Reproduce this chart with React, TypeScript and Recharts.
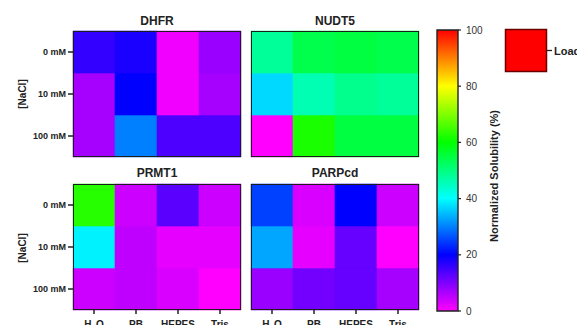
import React from 'react';
import { BarChart, Bar, XAxis, YAxis, Cell } from 'recharts';

// ---- data ----
const buffers = ['H₂O', 'PB', 'HEPES', 'Tris'];
const naclLevels = ['0 mM', '10 mM', '100 mM'];
// rows: 0 mM, 10 mM, 100 mM ; columns: H2O, PB, HEPES, Tris (normalized solubility %)
const dhfr = [
  [16, 18, 1, 8],
  [7, 20, 1, 7],
  [7, 30, 14, 14],
];
const nudt5 = [
  [48, 54, 55, 54],
  [37, 46, 49, 48],
  [0, 62, 55, 55],
];
const prmt1 = [
  [63, 4, 13, 4],
  [39, 5, 2, 2],
  [4, 5, 3, 0],
];
const parpcd = [
  [25, 3, 20, 4],
  [33, 2, 12, 0],
  [8, 11, 12, 7],
];
const scaleTicks = [0, 20, 40, 60, 80, 100];
const scaleStops = [0, 20, 40, 60, 80, 100];
const legendLabel = 'Loading';

const W = 577;
const H = 345;
const FONT = 'Arial, "Liberation Sans", sans-serif';

const colorOf = (v: number) => `hsl(${300 - 3 * v}, 100%, 50%)`;

type PanelProps = {
  values: number[][];
  left: number;
  top: number;
  showY: boolean;
  showX: boolean;
};

const PW = 168;
const PH = 126;

function Heatmap({ values, left, top, showY, showX }: PanelProps) {
  const data = buffers.map((b, c) => ({ buffer: b, h0: 1, h1: 1, h2: 1, v0: values[0][c], v1: values[1][c], v2: values[2][c] }));
  const yW = showY ? 73 : 0;
  const xH = showX ? 30 : 0;
  const margin = {
    top,
    left: left - yW,
    right: W - (left + PW),
    bottom: H - (top + PH) - xH,
  };
  return (
    <div style={{ position: 'absolute', left: 0, top: 0 }}>
      <BarChart width={W} height={H} data={data} margin={margin} barCategoryGap={0} barGap={0}>
        <XAxis
          dataKey="buffer"
          type="category"
          hide={!showX}
          height={xH}
          axisLine={false}
          tickSize={4}
          tickMargin={7}
          tickLine={{ stroke: '#222', strokeWidth: 1.5 }}
          tick={{ fontSize: 10, fontWeight: 700, fill: '#222', fontFamily: FONT }}
          interval={0}
        />
        <YAxis
          type="number"
          domain={[0, 3]}
          ticks={[0.5, 1.5, 2.5]}
          tickFormatter={(v: number) => naclLevels[2 - Math.floor(v)]}
          hide={!showY}
          width={yW}
          axisLine={false}
          tickSize={5}
          tickMargin={2}
          tickLine={{ stroke: '#222', strokeWidth: 1.5 }}
          tick={{ fontSize: 9, fontWeight: 700, fill: '#222', fontFamily: FONT }}
        />
        {[2, 1, 0].map((r) => (
          <Bar key={r} dataKey={`h${r}`} stackId="s" isAnimationActive={false}>
            {data.map((d, c) => (
              <Cell key={c} fill={colorOf(values[r][c])} stroke={colorOf(values[r][c])} strokeWidth={0.6} />
            ))}
          </Bar>
        ))}
      </BarChart>
      <div
        style={{
          position: 'absolute',
          left,
          top,
          width: PW,
          height: PH,
          border: '1.6px solid #1c1c1c',
          boxSizing: 'border-box',
          pointerEvents: 'none',
        }}
      />
    </div>
  );
}

function ColorBar() {
  const left = 437;
  const right = 458;
  const top = 30;
  const bottom = 311;
  const yW = 40;
  return (
    <div style={{ position: 'absolute', left: 0, top: 0 }}>
      <BarChart
        width={W}
        height={H}
        data={[{ name: 'scale', v: 100 }]}
        margin={{ top, bottom: H - bottom, left, right: W - right - yW }}
        barCategoryGap={0}
      >
        <defs>
          <linearGradient id="rainbow" x1="0" y1="1" x2="0" y2="0">
            {scaleStops.map((s) => (
              <stop key={s} offset={`${s}%`} stopColor={colorOf(s)} />
            ))}
          </linearGradient>
        </defs>
        <XAxis dataKey="name" hide />
        <YAxis
          orientation="right"
          type="number"
          domain={[0, 100]}
          ticks={scaleTicks}
          width={yW}
          axisLine={false}
          tickSize={3}
          tickMargin={5}
          tickLine={{ stroke: '#222', strokeWidth: 1.2 }}
          tick={{ fontSize: 10, fill: '#333', fontFamily: FONT }}
        />
        <Bar dataKey="v" fill="url(#rainbow)" stroke="#222" strokeWidth={1.4} isAnimationActive={false} />
      </BarChart>
    </div>
  );
}

function Overlay() {
  const title = { fontSize: 12, fontWeight: 700, fill: '#222', fontFamily: FONT, textAnchor: 'middle' as const };
  const axisTitle = { fontSize: 10, fontWeight: 700, fill: '#222', fontFamily: FONT, textAnchor: 'middle' as const };
  return (
    <svg width={W} height={325} style={{ position: 'absolute', left: 0, top: 0, pointerEvents: 'none' }}>
      <text x={157} y={25} {...title}>DHFR</text>
      <text x={335} y={25} {...title}>NUDT5</text>
      <text x={157} y={177} {...title}>PRMT1</text>
      <text x={335} y={177} {...title}>PARPcd</text>
      <text x={22} y={94} {...axisTitle} dominantBaseline="central" transform="rotate(-90 22 94)">[NaCl]</text>
      <text x={22} y={248} {...axisTitle} dominantBaseline="central" transform="rotate(-90 22 248)">[NaCl]</text>
      <text
        x={494}
        y={176}
        {...axisTitle}
        fontSize={11}
        dominantBaseline="central"
        transform="rotate(-90 494 176)"
      >
        Normalized Solubility (%)
      </text>
      <rect x={505.5} y={29.5} width={41} height={42} fill="#ff0000" stroke="#6b0000" strokeWidth={1.5} />
      <line x1={547} y1={50.5} x2={552} y2={50.5} stroke="#222" strokeWidth={1.3} />
      <text x={554} y={54.5} fontSize={11} fontWeight={700} fill="#222" fontFamily={FONT}>{legendLabel}</text>
    </svg>
  );
}

export default function App() {
  return (
    <div
      style={{
        position: 'fixed',
        left: 0,
        top: 0,
        width: W,
        height: 325,
        overflow: 'hidden',
        background: '#fff',
        fontFamily: FONT,
      }}
    >
      <Heatmap values={dhfr} left={73} top={31} showY={true} showX={false} />
      <Heatmap values={nudt5} left={251} top={31} showY={false} showX={false} />
      <Heatmap values={prmt1} left={73} top={184} showY={true} showX={true} />
      <Heatmap values={parpcd} left={251} top={184} showY={false} showX={true} />
      <ColorBar />
      <Overlay />
    </div>
  );
}
